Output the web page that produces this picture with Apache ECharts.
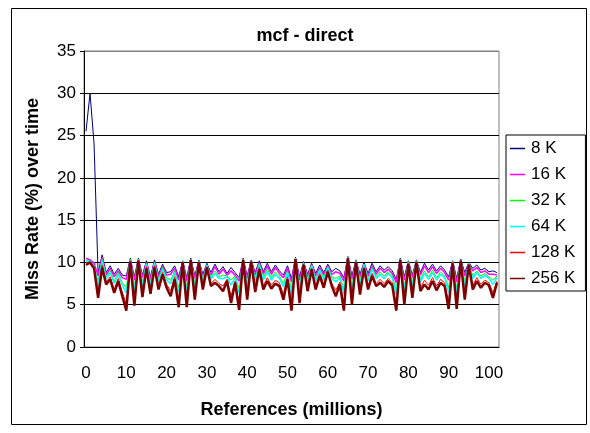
<!DOCTYPE html>
<html><head><meta charset="utf-8">
<script src="https://cdn.jsdelivr.net/npm/echarts@6/dist/echarts.min.js"></script>
<style>html,body{margin:0;padding:0;background:#fff}#c{width:590px;height:433px}</style>
</head><body><div id="c"></div>
<script>
var seriesNames = ['8 K','16 K','32 K','64 K','128 K','256 K'];
var k8 = [25.5,30.0,24.0,8.7,10.9,8.8,9.6,8.6,9.3,8.5, 8.4,10.5,8.3,10.5,8.5,10.2,8.3,10.3,8.6,9.8, 8.8,8.9,9.6,8.3,10.2,8.2,10.5,8.4,10.3,8.6, 9.9,8.8,9.8,8.9,9.5,8.7,9.4,8.8,8.2,10.5, 8.4,10.3,8.8,10.2,8.9,9.9,8.9,9.7,9.0,8.5, 9.6,8.1,10.6,8.3,10.1,8.6,9.9,8.7,9.7,8.8, 9.8,8.9,9.3,9.0,8.2,10.7,8.4,10.3,8.6,10.0, 8.7,9.9,8.9,9.6,9.1,9.5,9.0,8.0,10.5,8.3, 10.2,8.5,10.3,8.8,9.9,9.1,9.8,9.0,9.6,9.1, 8.3,10.2,8.1,10.4,8.8,10.0,9.3,9.7,9.1,9.3, 8.9,9.0,8.8];
var k16 = [10.5,10.3,9.9,8.4,10.6,8.5,9.3,8.3,9.0,8.2, 8.0,10.3,7.9,10.3,8.2,10.0,8.0,10.1,8.3,9.5, 8.5,8.6,9.3,7.9,10.0,7.8,10.3,8.1,10.1,8.3, 9.7,8.5,9.5,8.6,9.2,8.5,9.0,8.5,7.8,10.3, 8.1,10.1,8.5,10.0,8.6,9.6,8.6,9.4,8.7,8.2, 9.3,7.7,10.4,7.9,9.9,8.3,9.7,8.4,9.4,8.5, 9.6,8.6,8.9,8.7,7.8,10.5,8.0,10.1,8.3,9.8, 8.4,9.6,8.6,9.3,8.8,9.2,8.7,7.6,10.3,7.9, 10.0,8.2,10.1,8.5,9.6,8.8,9.5,8.7,9.3,8.8, 7.9,10.0,7.7,10.2,8.4,9.8,9.0,9.4,8.8,9.0, 8.6,8.6,8.5];
var k32 = [10.3,10.2,9.6,7.7,10.4,8.3,9.0,7.8,8.8,7.6, 7.0,10.4,7.1,10.4,7.6,9.9,7.6,10.0,8.0,9.4, 8.2,7.9,9.0,7.0,10.1,7.0,10.4,7.4,10.2,8.0, 9.7,8.2,9.0,8.3,8.5,8.4,7.9,8.4,6.9,10.4, 7.4,10.2,8.0,9.9,8.2,9.2,8.2,8.9,8.4,7.5, 9.0,6.8,10.5,7.2,10.0,7.9,9.7,8.0,9.2,8.2, 9.5,8.3,8.1,8.4,6.8,10.6,7.2,10.2,7.8,9.8, 8.0,9.4,8.3,8.9,8.4,8.9,8.4,6.7,10.4,7.1, 10.1,7.6,10.2,8.0,9.0,8.3,9.1,8.2,8.9,8.4, 7.0,10.1,6.8,10.3,7.7,9.9,8.4,9.0,8.4,8.7, 8.3,7.9,8.4];
var k64 = [10.2,10.1,9.5,7.3,10.2,8.1,8.8,7.5,8.6,7.3, 6.4,10.3,6.6,10.4,7.2,9.8,7.3,9.9,7.7,9.2, 7.9,7.5,8.8,6.5,10.1,6.5,10.4,7.0,10.2,7.7, 9.7,8.0,8.7,8.1,8.1,8.3,7.3,8.2,6.3,10.4, 7.0,10.2,7.7,9.7,7.9,8.9,7.9,8.6,8.1,7.1, 8.8,6.2,10.5,6.8,9.9,7.6,9.6,7.8,9.1,7.9, 9.4,8.1,7.7,8.2,6.3,10.6,6.7,10.2,7.4,9.7, 7.8,9.2,8.1,8.6,8.1,8.7,8.2,6.2,10.4,6.7, 10.0,7.2,10.2,7.7,8.7,8.0,8.8,7.9,8.6,8.2, 6.4,10.1,6.3,10.3,7.2,9.9,8.1,8.8,8.1,8.5, 8.1,7.4,8.2];
var k128 = [10.0,10.0,9.4,6.4,9.7,7.7,8.3,6.8,8.1,6.5, 5.1,10.2,5.6,10.3,6.4,9.5,6.7,9.6,7.2,8.8, 7.4,6.6,8.3,5.4,10.0,5.4,10.3,6.2,10.1,7.2, 9.5,7.5,8.0,7.5,7.2,8.0,6.0,7.8,5.2,10.3, 6.2,10.1,7.0,9.4,7.2,8.2,7.3,7.9,7.6,6.2, 8.3,5.1,10.4,5.8,9.8,7.0,9.3,7.2,8.7,7.4, 9.1,7.5,6.7,7.7,5.1,10.5,5.7,10.1,6.7,9.4, 7.2,8.7,7.5,8.0,7.5,8.1,7.6,5.0,10.3,5.7, 9.9,6.3,10.1,7.0,7.9,7.3,8.2,7.2,8.0,7.6, 5.3,10.0,5.2,10.2,6.2,9.8,7.3,8.2,7.4,7.9, 7.6,6.4,7.8];
var k256 = [9.7,10.0,9.3,5.8,9.4,7.4,8.0,6.4,7.8,6.0, 4.3,10.1,4.9,10.2,5.9,9.3,6.3,9.4,6.8,8.6, 7.0,6.0,8.0,4.7,10.0,4.7,10.3,5.6,10.0,6.8, 9.4,7.2,7.6,7.2,6.6,7.8,5.2,7.6,4.4,10.3, 5.6,10.1,6.5,9.2,6.8,7.8,6.9,7.5,7.2,5.6, 8.0,4.3,10.4,5.2,9.7,6.6,9.2,6.8,8.4,7.0, 8.9,7.2,6.0,7.4,4.3,10.5,5.0,10.0,6.2,9.3, 6.8,8.4,7.2,7.6,7.1,7.8,7.3,4.3,10.3,5.0, 9.8,5.8,10.0,6.6,7.4,6.8,7.8,6.7,7.6,7.2, 4.5,9.9,4.5,10.2,5.6,9.7,6.8,7.8,7.0,7.6, 7.3,5.8,7.6];
var seriesData = [k8, k16, k32, k64, k128, k256];
var seriesColors = ['#000080','#FF00FF','#00FF00','#00FFFF','#FF0000','#800000'];
var seriesWidths = [1, 1.5, 1, 1.5, 1, 2.5];
var categories = [];
for (var i = 0; i < k8.length; i++) categories.push(String(i));
var yTicks = {min: 0, max: 35, interval: 5};

var font = 'Liberation Sans, Arial, sans-serif';
var chart = echarts.init(document.getElementById('c'), null, {renderer: 'canvas'});
chart.setOption({
  animation: false,
  backgroundColor: '#fff',
  title: {text: 'mcf - direct', left: 300, top: 22, textAlign: 'center',
    textStyle: {fontFamily: font, fontSize: 18, fontWeight: 'bold', color: '#000'}},
  graphic: [{type: 'rect', shape: {x: 11.5, y: 8.5, width: 575, height: 416},
    style: {fill: null, stroke: '#000', lineWidth: 1}, z: -1}],
  legend: {orient: 'vertical', left: 506, top: 135, itemWidth: 15, itemHeight: 1.5, itemGap: 9,
    icon: 'rect', borderColor: '#000', borderWidth: 1, padding: [5, 10, 4, 4],
    textStyle: {fontFamily: font, fontSize: 17, color: '#000', padding: [0, 0, 0, 1]},
    data: seriesNames},
  grid: {left: 84, right: 91, top: 51, bottom: 86, show: true, borderColor: '#808080', borderWidth: 1},
  xAxis: {type: 'category', data: categories, boundaryGap: true,
    name: 'References (millions)', nameLocation: 'middle', nameGap: 54,
    nameTextStyle: {fontFamily: font, fontSize: 18, fontWeight: 'bold', color: '#000'},
    axisLine: {lineStyle: {color: '#000', width: 1}},
    axisTick: {inside: true, length: 6, alignWithLabel: true, interval: function (idx) { return idx % 10 === 0; }, lineStyle: {color: '#000'}},
    axisLabel: {interval: function (idx) { return idx % 10 === 0; }, margin: 18,
      fontFamily: font, fontSize: 17, color: '#000'},
    splitLine: {show: false}},
  yAxis: {type: 'value', min: yTicks.min, max: yTicks.max, interval: yTicks.interval,
    name: 'Miss Rate (%) over time', nameLocation: 'middle', nameGap: 42,
    nameTextStyle: {fontFamily: font, fontSize: 18, fontWeight: 'bold', color: '#000'},
    axisLine: {show: true, lineStyle: {color: '#000', width: 1}},
    axisTick: {show: true, length: 4, lineStyle: {color: '#000'}},
    axisLabel: {margin: 8, fontFamily: font, fontSize: 17, color: '#000'},
    splitLine: {show: true, lineStyle: {color: ['#000','#000','#000','#000','#000','#000','#000','#808080'], width: 1}}},
  series: seriesNames.map(function (n, k) {
    return {name: n, type: 'line', data: seriesData[k], symbol: 'none', smooth: false,
      color: seriesColors[k], lineStyle: {color: seriesColors[k], width: seriesWidths[k]}};
  })
});
</script></body></html>
